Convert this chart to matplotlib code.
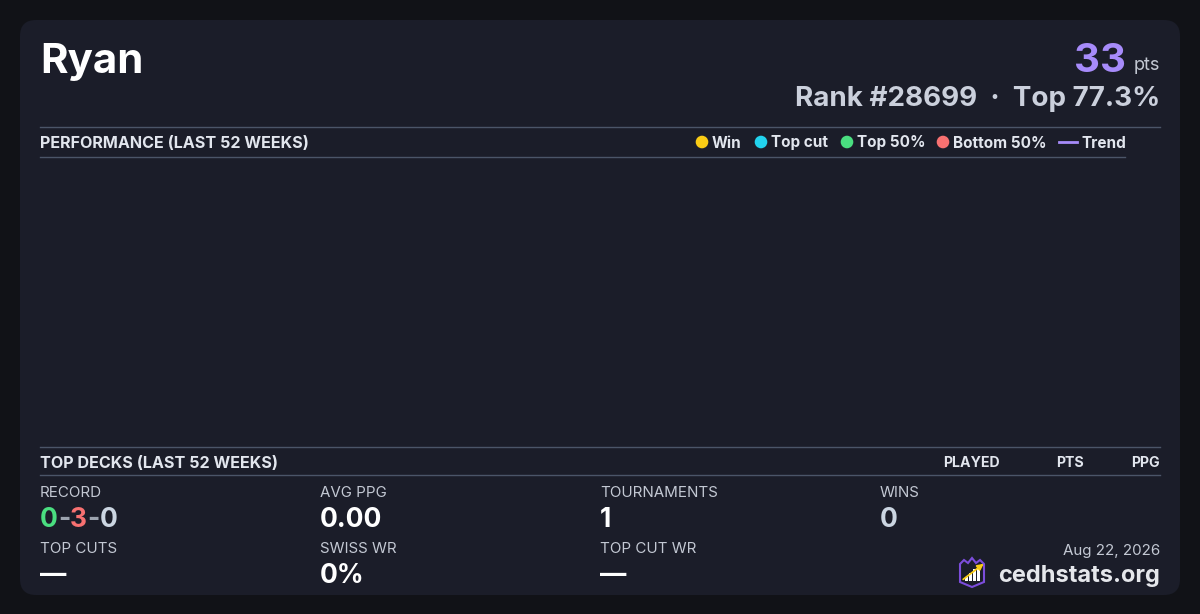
import matplotlib
matplotlib.use("Agg")
import matplotlib.pyplot as plt
from matplotlib.patches import FancyBboxPatch, Circle, Polygon, Rectangle

plt.rcParams['font.family'] = ['Inter', 'DejaVu Sans']

# card data
player = "Ryan"
points = 33
rank = 28699
top_pct = 77.3

legend_labels = ["Win", "Top cut", "Top 50%", "Bottom 50%", "Trend"]
legend_colors = ["#facc15", "#22d3ee", "#4ade80", "#f87171", "#a78bfa"]

deck_cols = ["PLAYED", "PTS", "PPG"]

record = [0, 3, 0]
stat_labels = ["RECORD", "AVG PPG", "TOURNAMENTS", "WINS",
               "TOP CUTS", "SWISS WR", "TOP CUT WR"]
stat_values = [None, "0.00", "1", "0", "\u2014", "0%", "\u2014"]
date_str = "Aug 22, 2026"
site = "cedhstats.org"

BG = "#111217"
CARD = "#1b1d29"
RULE = "#4b5568"
HEAD = "#e2e6ee"
LABEL = "#c3c8d3"

fig = plt.figure(figsize=(12, 6.14), dpi=100, facecolor=BG)
ax = fig.add_axes([0, 0, 1, 1])
ax.set_xlim(0, 1200)
ax.set_ylim(614, 0)
ax.axis("off")

ax.add_patch(FancyBboxPatch((20, 20), 1160, 575, boxstyle="round,pad=0,rounding_size=16",
                            facecolor=CARD, edgecolor="none"))

# header
ax.text(40, 73, player, color="white", fontsize=30.2, fontweight="bold", va="baseline", ha="left")
ax.text(1160, 70, "pts", color=LABEL, fontsize=13, va="baseline", ha="right")
ax.text(1126, 72, str(points), color="#a78bfa", fontsize=29, fontweight="bold", va="baseline", ha="right")
ax.text(1160, 106, f"Rank #{rank}  \u00b7  Top {top_pct}%", color="#cbd0dc", fontsize=20,
        fontweight="bold", va="baseline", ha="right")

# performance section
ax.plot([40, 1160], [126.5, 126.5], color=RULE, lw=1)
ax.plot([40, 1125], [156.5, 156.5], color=RULE, lw=1)
ax.text(40, 147.5, "PERFORMANCE (LAST 52 WEEKS)", color=HEAD, fontsize=11.6, fontweight="bold",
        va="baseline", ha="left")

legend_x = [702, 761, 847, 943, 1061]
for i, (lab, col) in enumerate(zip(legend_labels, legend_colors)):
    x = legend_x[i]
    if lab == "Trend":
        ax.plot([x - 2, x + 16], [142, 142], color=col, lw=2)
        ax.text(x + 20, 147.5, lab, color=HEAD, fontsize=11, fontweight="bold", va="baseline", ha="left")
    else:
        ax.add_patch(Circle((x, 142), 6.3, facecolor=col, edgecolor="none"))
        ax.text(x + 10, 147.5, lab, color=HEAD, fontsize=11, fontweight="bold", va="baseline", ha="left")

# top decks section
ax.plot([40, 1160], [446.5, 446.5], color=RULE, lw=1)
ax.plot([40, 1160], [474.5, 474.5], color=RULE, lw=1)
ax.text(40, 467.5, "TOP DECKS (LAST 52 WEEKS)", color=HEAD, fontsize=11.6, fontweight="bold",
        va="baseline", ha="left")
for lab, x in zip(deck_cols, [1000, 1084, 1160]):
    ax.text(x, 467, lab, color=HEAD, fontsize=10.2, fontweight="bold", va="baseline", ha="right")

# stats grid
col_x = [40, 320, 600, 880]
row_y = [(497, 527), (553, 583)]
for i, lab in enumerate(stat_labels):
    r, c = divmod(i, 4)
    ly, vy = row_y[r]
    ax.text(col_x[c], ly, lab, color=LABEL, fontsize=10.9, va="baseline", ha="left")
    val = stat_values[i]
    if val is None:
        continue
    vcol = "#cbd5e1" if lab == "WINS" else "white"
    ax.text(col_x[c], vy, val, color=vcol, fontsize=19, fontweight="bold", va="baseline", ha="left")

# record with coloured parts
parts = [(str(record[0]), "#4ade80"), ("-", "#9ca3af"), (str(record[1]), "#f87171"),
         ("-", "#9ca3af"), (str(record[2]), "#cbd5e1")]
fig.canvas.draw()
renderer = fig.canvas.get_renderer()
x = 40
for s, col in parts:
    t = ax.text(x, 527, s, color=col, fontsize=19, fontweight="bold", va="baseline", ha="left")
    bb = t.get_window_extent(renderer)
    x += bb.width * 1200 / fig.bbox.width

# footer
ax.text(1160, 555, date_str, color=LABEL, fontsize=10.9, va="baseline", ha="right")
ax.text(1160, 582, site, color="#e5e7eb", fontsize=17, fontweight="bold",
        va="baseline", ha="right")

# logo
lx, ly = 972, 574
ax.add_patch(Polygon([(lx - 12, ly - 10), (lx - 8, ly - 14), (lx - 4, ly - 11), (lx, ly - 16),
                      (lx + 4, ly - 11), (lx + 8, ly - 14), (lx + 12, ly - 10),
                      (lx + 12, ly + 8), (lx, ly + 13), (lx - 12, ly + 8)],
                     closed=True, facecolor="#1b1d29", edgecolor="#7c4ddb", lw=1.5))
for bx, bh in zip([-7, -3, 1, 5], [4, 8, 12, 15]):
    ax.add_patch(Rectangle((lx + bx, ly + 7 - bh), 3, bh, facecolor="white", edgecolor="none"))
ax.annotate("", xy=(lx + 14, ly - 12), xytext=(lx - 11, ly + 7),
            arrowprops=dict(arrowstyle="-|>", color="#facc15", lw=1.3, mutation_scale=9))

fig.savefig("out.png", dpi=100, facecolor=BG)
